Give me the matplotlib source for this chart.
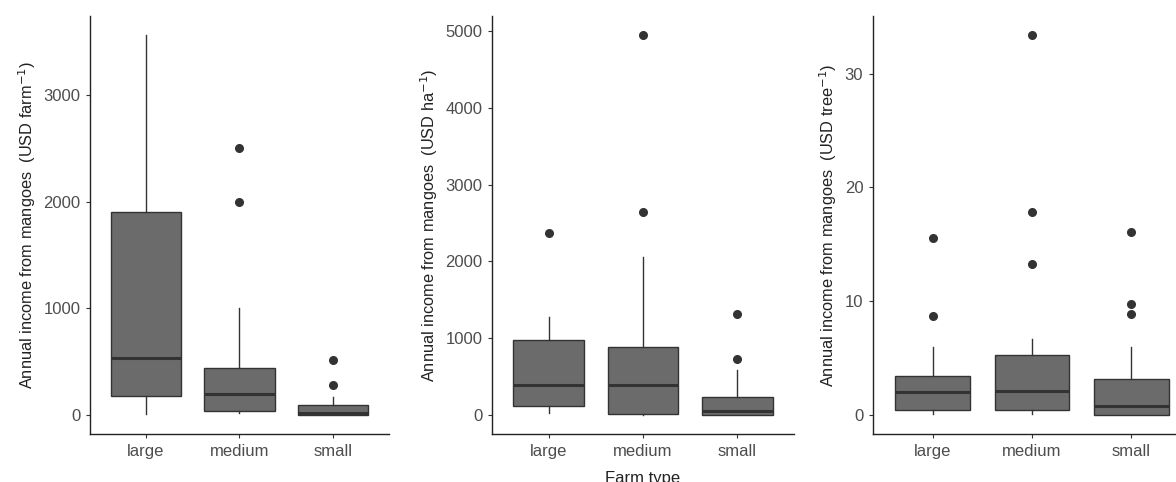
import matplotlib.pyplot as plt

plt.rcParams['font.family'] = ['Liberation Sans', 'DejaVu Sans']

farm_types = ['large', 'medium', 'small']

# box stats: whislo, q1, median, q3, whishi, outliers
farm_whislo = [5, 20, 0]
farm_q1 = [180, 37, 0]
farm_med = [539, 199, 16]
farm_q3 = [1900, 442, 91]
farm_whishi = [3563, 1000, 171]
farm_fliers = [[], [2500, 2000], [520, 283]]

ha_whislo = [20, 5, 0]
ha_q1 = [121, 13, 0]
ha_med = [390, 390, 48]
ha_q3 = [980, 885, 234]
ha_whishi = [1279, 2059, 585]
ha_fliers = [[2364], [4948, 2637], [1310, 725]]

tree_whislo = [0.06, 0.06, 0]
tree_q1 = [0.47, 0.47, 0]
tree_med = [2.02, 2.14, 0.76]
tree_q3 = [3.43, 5.28, 3.17]
tree_whishi = [6.0, 6.66, 6.0]
tree_fliers = [[15.6, 8.7], [33.4, 17.8, 13.25], [16.1, 9.8, 8.85]]

ylabels = ['Annual income from mangoes  (USD farm$^{-1}$)',
           'Annual income from mangoes  (USD ha$^{-1}$)',
           'Annual income from mangoes  (USD tree$^{-1}$)']
yticks = [[0, 1000, 2000, 3000], [0, 1000, 2000, 3000, 4000, 5000], [0, 10, 20, 30]]

panels = [
    (farm_whislo, farm_q1, farm_med, farm_q3, farm_whishi, farm_fliers),
    (ha_whislo, ha_q1, ha_med, ha_q3, ha_whishi, ha_fliers),
    (tree_whislo, tree_q1, tree_med, tree_q3, tree_whishi, tree_fliers),
]

W, H = 1176, 482
fig = plt.figure(figsize=(W / 100, H / 100), dpi=100)
# axes placement in pixels (left, width)
boxes_px = [(90, 299), (492, 302), (873, 318)]
bottom_px, top_px = 434, 16

edge = '#333333'
fill = '#6b6b6b'

for i, (lo, q1, med, q3, hi, fl) in enumerate(panels):
    left, width = boxes_px[i]
    ax = fig.add_axes([left / W, (H - bottom_px) / H, width / W, (bottom_px - top_px) / H])
    stats = []
    for j in range(3):
        stats.append(dict(whislo=lo[j], q1=q1[j], med=med[j], q3=q3[j],
                          whishi=hi[j], fliers=fl[j]))
    ax.bxp(stats, positions=[1, 2, 3], widths=0.75, patch_artist=True,
           showcaps=False,
           boxprops=dict(facecolor=fill, edgecolor=edge, linewidth=1.0),
           medianprops=dict(color=edge, linewidth=2.2),
           whiskerprops=dict(color=edge, linewidth=1.0),
           flierprops=dict(marker='o', markerfacecolor=edge, markeredgecolor=edge,
                           markersize=5.5))
    allvals = [v for v in hi] + [v for f in fl for v in f] + lo
    ymax = max(allvals)
    ymin = min(allvals)
    pad = (ymax - ymin) * 0.05
    ax.set_ylim(ymin - pad, ymax + pad)
    ax.set_xlim(0.4, 3.6)
    ax.set_xticks([1, 2, 3])
    ax.set_xticklabels(farm_types)
    ax.set_yticks(yticks[i])
    ax.set_ylabel(ylabels[i], fontsize=11.8, color='#222222', labelpad=4)
    for s in ['top', 'right']:
        ax.spines[s].set_visible(False)
    for s in ['left', 'bottom']:
        ax.spines[s].set_linewidth(1.0)
        ax.spines[s].set_color('#222222')
    ax.tick_params(axis='both', length=3, width=0.8, color='#333333',
                   labelcolor='#4d4d4d', labelsize=12, pad=4)
    ax.patch.set_alpha(0)
    if i == 1:
        ax.set_xlabel('Farm type', fontsize=12, color='#222222', labelpad=8.5)

fig.savefig('out.png', dpi=100)
